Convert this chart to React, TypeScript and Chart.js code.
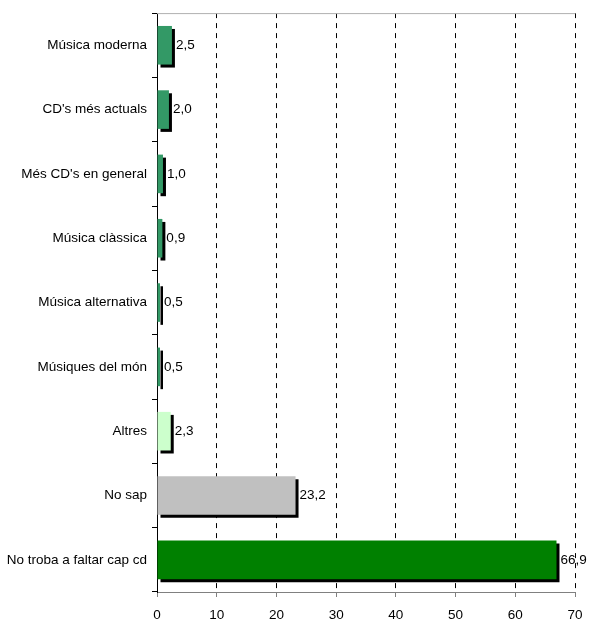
import React, { useEffect, useRef } from "react";
import { Chart, registerables } from "chart.js";

Chart.register(...registerables);

const categories = [
  "Música moderna",
  "CD's més actuals",
  "Més CD's en general",
  "Música clàssica",
  "Música alternativa",
  "Músiques del món",
  "Altres",
  "No sap",
  "No troba a faltar cap cd",
];
const values = [2.5, 2.0, 1.0, 0.9, 0.5, 0.5, 2.3, 23.2, 66.9];
const barColors = [
  "#339966", "#339966", "#339966", "#339966", "#339966", "#339966",
  "#CCFFCC", "#C0C0C0", "#008000",
];
const xTicks = [0, 10, 20, 30, 40, 50, 60, 70];

const FONT = "'Liberation Sans', Arial, sans-serif";
const FS = 13.5;

const shadowPlugin = {
  id: "barShadow",
  beforeDatasetDraw(chart: any) {
    const ctx = chart.ctx;
    ctx.save();
    ctx.shadowColor = "#000000";
    ctx.shadowOffsetX = 3;
    ctx.shadowOffsetY = 3;
    ctx.shadowBlur = 0;
  },
  afterDatasetDraw(chart: any) {
    chart.ctx.restore();
  },
};

const framePlugin = {
  id: "frame",
  beforeDatasetsDraw(chart: any) {
    const { ctx, chartArea } = chart;
    ctx.save();
    ctx.strokeStyle = "#B0B0B0";
    ctx.lineWidth = 1;
    ctx.beginPath();
    ctx.moveTo(chartArea.left, chartArea.top + 0.5);
    ctx.lineTo(chartArea.right + 0.5, chartArea.top + 0.5);
    ctx.stroke();
    ctx.restore();
  },
};

const labelPlugin = {
  id: "valueLabels",
  afterDatasetsDraw(chart: any) {
    const ctx = chart.ctx;
    const meta = chart.getDatasetMeta(0);
    ctx.save();
    ctx.font = `${FS}px ${FONT}`;
    ctx.fillStyle = "#000000";
    ctx.textAlign = "left";
    ctx.textBaseline = "middle";
    meta.data.forEach((bar: any, i: number) => {
      const txt = values[i].toFixed(1).replace(".", ",");
      ctx.fillText(txt, bar.x + 4, bar.y);
    });
    ctx.restore();
  },
};

export default function App() {
  const ref = useRef<HTMLCanvasElement | null>(null);

  useEffect(() => {
    document.body.style.margin = "0";
    const canvas = ref.current!;
    const chart = new Chart(canvas, {
      type: "bar",
      data: {
        labels: categories,
        datasets: [
          {
            data: values,
            backgroundColor: barColors,
            borderWidth: 0,
            barPercentage: 0.6,
            categoryPercentage: 1,
          },
        ],
      },
      options: {
        indexAxis: "y",
        animation: false,
        responsive: false,
        maintainAspectRatio: false,
        layout: { padding: { top: 12, right: 15, bottom: 0, left: 0 } },
        plugins: {
          legend: { display: false },
          tooltip: { enabled: false },
        },
        scales: {
          x: {
            min: 0,
            max: 70,
            afterBuildTicks: (axis: any) => {
              axis.ticks = xTicks.map((v) => ({ value: v }));
            },
            afterFit: (axis: any) => {
              axis.height = 27;
              axis.paddingRight = 0;
              axis.paddingLeft = 0;
            },
            ticks: {
              color: "#000000",
              font: { family: FONT, size: FS },
              padding: 10,
              maxRotation: 0,
              callback: (v: any) => String(v),
            },
            grid: {
              color: (c: any) => (c.tick && c.tick.value === 0 ? "rgba(0,0,0,0)" : "#000000"),
              tickColor: "#808080",
              tickLength: 5,
              lineWidth: 1,
            },
            border: { display: true, color: "#808080", width: 1, dash: [5, 5] },
          },
          y: {
            afterFit: (axis: any) => {
              axis.width = 157;
            },
            ticks: {
              color: "#000000",
              font: { family: FONT, size: FS },
              padding: 5,
            },
            grid: {
              offset: true,
              drawOnChartArea: false,
              tickLength: 5,
              tickColor: "#000000",
            },
            border: { display: true, color: "#000000", width: 1 },
          },
        },
      },
      plugins: [framePlugin, shadowPlugin, labelPlugin],
    });
    return () => chart.destroy();
  }, []);

  return <canvas ref={ref} width={590} height={619} style={{ display: "block" }} />;
}
